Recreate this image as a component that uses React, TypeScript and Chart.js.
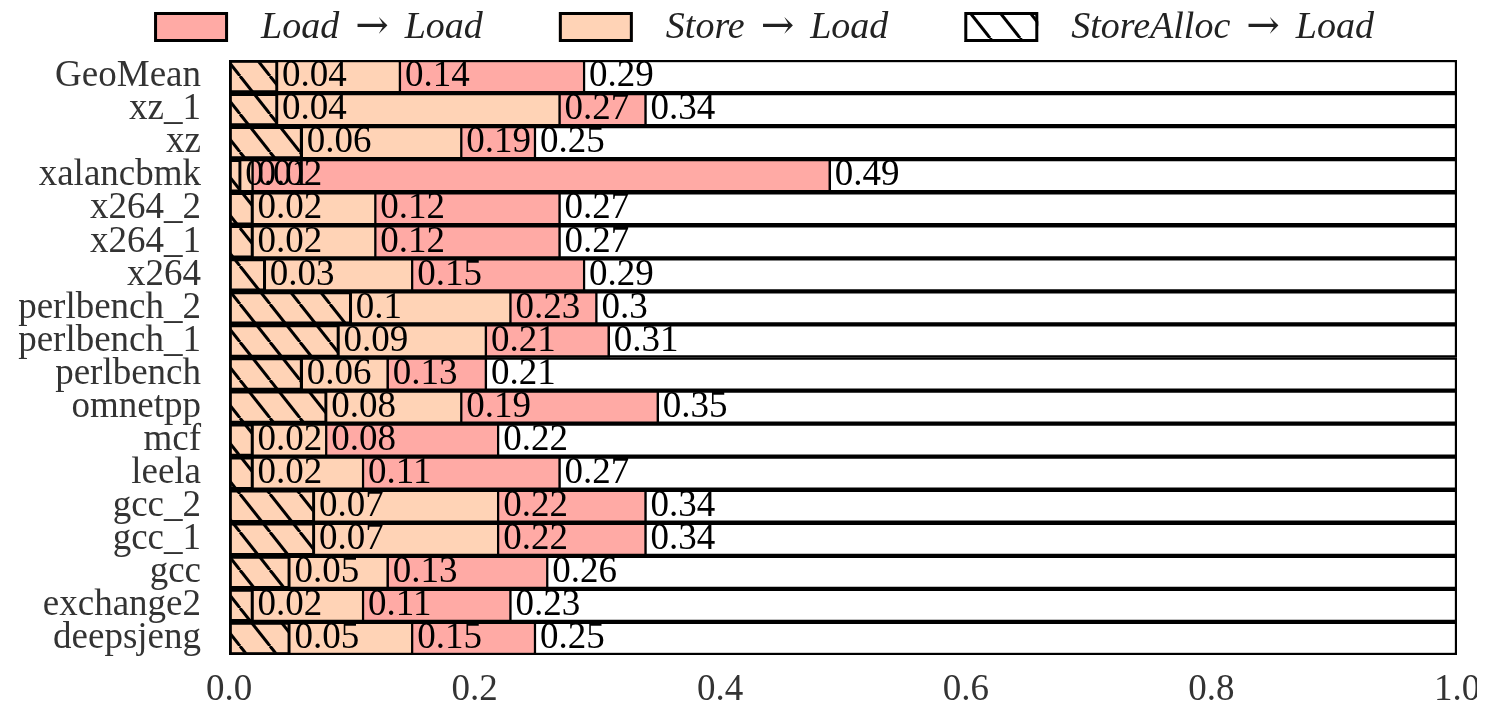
import React, { useEffect, useRef } from 'react';
import { Chart, registerables } from 'chart.js';

Chart.register(...registerables);

// Benchmarks, top row first.
const benchmarks = [
  'GeoMean', 'xz_1', 'xz', 'xalancbmk', 'x264_2', 'x264_1', 'x264',
  'perlbench_2', 'perlbench_1', 'perlbench', 'omnetpp', 'mcf', 'leela',
  'gcc_2', 'gcc_1', 'gcc', 'exchange2', 'deepsjeng',
];

// Cumulative fractions: each series includes the ones drawn over it.
const storeAllocLoad = [0.04, 0.04, 0.06, 0.01, 0.02, 0.02, 0.03, 0.1, 0.09, 0.06, 0.08, 0.02, 0.02, 0.07, 0.07, 0.05, 0.02, 0.05];
const storeLoad = [0.14, 0.27, 0.19, 0.02, 0.12, 0.12, 0.15, 0.23, 0.21, 0.13, 0.19, 0.08, 0.11, 0.22, 0.22, 0.13, 0.11, 0.15];
const loadLoad = [0.29, 0.34, 0.25, 0.49, 0.27, 0.27, 0.29, 0.3, 0.31, 0.21, 0.35, 0.22, 0.27, 0.34, 0.34, 0.26, 0.23, 0.25];
const frameValues = benchmarks.map(() => 1);

const xTickStep = 0.2;
const xMin = 0;
const xMax = 1;

// Legend names as [source, target] pairs joined by an arrow.
const seriesNames: [string, string][] = [
  ['Load', 'Load'],
  ['Store', 'Load'],
  ['StoreAlloc', 'Load'],
];
const ARROW = '\u2192';

const PINK = '#ffaaa5';
const PEACH = '#ffd3b6';
const SERIF = '"Liberation Serif", "DejaVu Serif", serif';
const FONT_SIZE = 37;

const WIDTH = 1485;
const HEIGHT = 708;

function makeHatch(): CanvasPattern | string {
  const w = 30;
  const h = 38;
  const c = document.createElement('canvas');
  c.width = w;
  c.height = h;
  const g = c.getContext('2d');
  if (!g) return 'rgba(0,0,0,0)';
  g.strokeStyle = '#000';
  g.lineWidth = 3;
  for (const dx of [-w, 0, w]) {
    g.beginPath();
    g.moveTo(dx, 0);
    g.lineTo(dx + w, h);
    g.stroke();
  }
  const p = g.createPattern(c, 'repeat');
  return p || 'rgba(0,0,0,0)';
}

// Writes each series' value just right of its bar end.
const valueLabels = {
  id: 'valueLabels',
  afterDatasetsDraw(chart: any) {
    const ctx = chart.ctx as CanvasRenderingContext2D;
    ctx.save();
    ctx.font = `${FONT_SIZE}px ${SERIF}`;
    ctx.fillStyle = '#000';
    ctx.textAlign = 'left';
    ctx.textBaseline = 'middle';
    chart.data.datasets.forEach((ds: any, i: number) => {
      if (ds.isFrame) return;
      const meta = chart.getDatasetMeta(i);
      meta.data.forEach((bar: any, j: number) => {
        ctx.fillText(String(ds.data[j]), bar.x + 4, bar.y);
      });
    });
    ctx.restore();
  },
};

// Legend row across the top: swatch, italic name, upright arrow.
const topLegend = {
  id: 'topLegend',
  afterDraw(chart: any) {
    const ctx = chart.ctx as CanvasRenderingContext2D;
    const boxW = 74;
    const boxH = 30;
    const boxTop = 12;
    const textGap = 33;
    const itemGap = 76;
    const arrowPad = 16;
    const centerX = 764;
    const italic = `italic 38px ${SERIF}`;
    const upright = `40px "DejaVu Serif", serif`;
    ctx.save();
    const items = seriesNames.map(([a, b]) => {
      ctx.font = italic;
      const wa = ctx.measureText(a).width;
      const wb = ctx.measureText(b).width;
      ctx.font = upright;
      const wr = ctx.measureText(ARROW).width;
      return { a, b, wa, wb, wr, tw: wa + wb + wr + arrowPad * 2 };
    });
    const total = items.reduce((s, it) => s + boxW + textGap + it.tw, 0) + itemGap * (items.length - 1);
    let x = centerX - total / 2;
    const ty = boxTop + boxH / 2 + 1;
    items.forEach((it, idx) => {
      const ds = chart.data.datasets[idx];
      ctx.fillStyle = '#fff';
      ctx.fillRect(x, boxTop, boxW, boxH);
      ctx.fillStyle = ds.backgroundColor;
      ctx.fillRect(x, boxTop, boxW, boxH);
      ctx.strokeStyle = '#000';
      ctx.lineWidth = 3;
      ctx.strokeRect(x + 1.5, boxTop + 1.5, boxW - 3, boxH - 3);
      ctx.fillStyle = '#222';
      ctx.textAlign = 'left';
      ctx.textBaseline = 'middle';
      let tx = x + boxW + textGap;
      ctx.font = italic;
      ctx.fillText(it.a, tx, ty);
      tx += it.wa + arrowPad;
      ctx.font = upright;
      ctx.fillText(ARROW, tx, ty);
      tx += it.wr + arrowPad;
      ctx.font = italic;
      ctx.fillText(it.b, tx, ty);
      x += boxW + textGap + it.tw + itemGap;
    });
    ctx.restore();
  },
};

export default function App() {
  const ref = useRef<HTMLCanvasElement | null>(null);

  useEffect(() => {
    if (!ref.current) return;
    const hatch = makeHatch();
    const barCommon = {
      borderColor: '#000',
      borderWidth: 2.5,
      borderSkipped: false,
      grouped: false,
      barPercentage: 1,
      categoryPercentage: 1,
    };
    const chart = new Chart(ref.current, {
      type: 'bar',
      data: {
        labels: benchmarks,
        datasets: [
          { ...barCommon, label: 'Load \u2192 Load', data: loadLoad, backgroundColor: PINK, order: 3 },
          { ...barCommon, label: 'Store \u2192 Load', data: storeLoad, backgroundColor: PEACH, order: 2 },
          { ...barCommon, label: 'StoreAlloc \u2192 Load', data: storeAllocLoad, backgroundColor: hatch as any, order: 1 },
          { ...barCommon, label: 'frame', data: frameValues, backgroundColor: '#fff', order: 4, isFrame: true } as any,
        ],
      },
      options: {
        indexAxis: 'y',
        animation: false,
        responsive: false,
        events: [],
        layout: { padding: { top: 60, right: 28, left: 0, bottom: 0 } },
        plugins: {
          legend: { display: false },
          tooltip: { enabled: false },
        },
        scales: {
          x: {
            type: 'linear',
            min: xMin,
            max: xMax,
            grid: { display: false, drawTicks: false },
            border: { display: false },
            ticks: {
              stepSize: xTickStep,
              maxRotation: 0,
              padding: 17,
              color: '#333',
              font: { family: SERIF, size: FONT_SIZE, lineHeight: 1 },
              callback: (v: any) => Number(v).toFixed(1),
            },
            afterFit: (s: any) => {
              s.height = 53;
              s.paddingLeft = 0;
              s.paddingRight = 0;
            },
          },
          y: {
            type: 'category',
            grid: { display: false, drawTicks: false },
            border: { display: false },
            ticks: {
              autoSkip: false,
              padding: 28,
              color: '#333',
              font: { family: SERIF, size: FONT_SIZE, lineHeight: 1 },
            },
            afterFit: (s: any) => {
              s.width = 229;
              s.paddingTop = 0;
              s.paddingBottom = 0;
            },
          },
        },
      },
      plugins: [valueLabels, topLegend],
    } as any);
    return () => chart.destroy();
  }, []);

  return (
    <div style={{ width: WIDTH, height: HEIGHT, margin: -8 }}>
      <canvas ref={ref} width={WIDTH} height={HEIGHT} style={{ display: 'block' }} />
    </div>
  );
}
